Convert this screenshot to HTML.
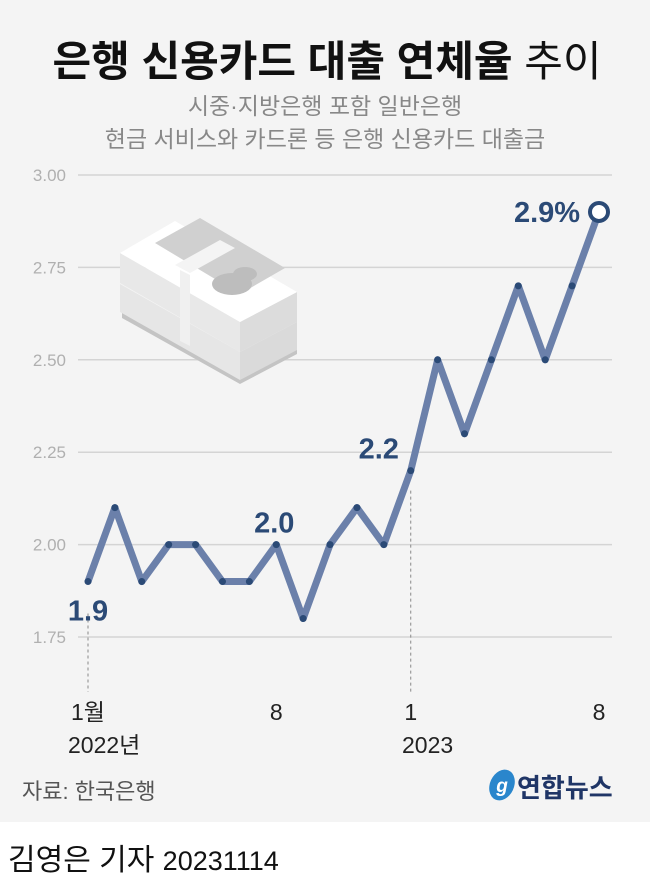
<!DOCTYPE html>
<html><head><meta charset="utf-8"><style>
body{margin:0;width:650px;height:883px;background:#fff;font-family:"Liberation Sans","Noto Sans CJK KR",sans-serif;overflow:hidden}
#main{position:absolute;left:0;top:0;width:650px;height:822px;background:#f4f4f4}
</style></head><body>
<div id="main">
<svg width="650" height="822" style="position:absolute;left:0;top:0">
<text x="327" y="76" text-anchor="middle" font-size="42" font-weight="bold" fill="#111" font-family="Liberation Sans,Noto Sans CJK KR,sans-serif">은행 신용카드 대출 연체율 <tspan font-weight="normal">추이</tspan></text>
<text x="325" y="114" text-anchor="middle" font-size="23" fill="#888" font-family="Liberation Sans,Noto Sans CJK KR,sans-serif">시중·지방은행 포함 일반은행</text>
<text x="325" y="147" text-anchor="middle" font-size="23" fill="#888" font-family="Liberation Sans,Noto Sans CJK KR,sans-serif">현금 서비스와 카드론 등 은행 신용카드 대출금</text>
<g id="grid"></g>
<g id="money">
<polygon points="122,312 240,378 240,384 122,318" fill="#c4c4c4"/>
<polygon points="240,378 297,348 297,354 240,384" fill="#c4c4c4"/>
<polygon points="120,284 240,352 240,380 120,312" fill="#e6e6e6"/>
<polygon points="240,352 297,322 297,350 240,380" fill="#dadada"/>
<polygon points="120,253 240,322 240,352 120,283" fill="#e8e8e8"/>
<polygon points="240,322 297,292 297,322 240,352" fill="#dcdcdc"/>
<polygon points="120,253 175,221 297,292 240,322" fill="#fff"/>
<polygon points="155,243 200,218 285,268 240,294" fill="#d0d0d0"/>
<polygon points="175,265 220,240 235,248 190,273" fill="#f4f4f4"/>
<polygon points="180,270 190,275 190,346 180,341" fill="#f0f0f0"/>
<ellipse cx="232" cy="284" rx="20" ry="11" fill="#bdbdbd"/>
<ellipse cx="245" cy="274" rx="12" ry="7" fill="#bdbdbd"/>
</g>
<g id="plot"></g>
<text x="22" y="799" font-size="22" fill="#555" font-family="Liberation Sans,Noto Sans CJK KR,sans-serif">자료: 한국은행</text>
<g>
<ellipse cx="502" cy="785" rx="12" ry="16" fill="#2a86cc" transform="rotate(25 502 785)"/>
<text x="502" y="792" text-anchor="middle" font-size="19" font-style="italic" fill="#fff" font-weight="bold">g</text>
<text x="517" y="797" font-size="26" font-weight="bold" fill="#1f3566" font-family="Liberation Sans,Noto Sans CJK KR,sans-serif">연합뉴스</text>
</g>
</svg>
</div>
<div style="position:absolute;left:8px;top:835px;font-size:30px;color:#111">김영은 기자 <span style="font-size:27px">20231114</span></div>
<script>
const categories=['2022-01','2022-02','2022-03','2022-04','2022-05','2022-06','2022-07','2022-08','2022-09','2022-10','2022-11','2022-12','2023-01','2023-02','2023-03','2023-04','2023-05','2023-06','2023-07','2023-08'];
const values=[1.9,2.1,1.9,2.0,2.0,1.9,1.9,2.0,1.8,2.0,2.1,2.0,2.2,2.5,2.3,2.5,2.7,2.5,2.7,2.9];
const yTicks=[1.75,2.00,2.25,2.50,2.75,3.00];
const labeled=[0,7,12,19];
const labelText=['1.9','2.0','2.2','2.9%'];
const NS='http://www.w3.org/2000/svg';
const x=i=>88+i*(599-88)/19;
const y=v=>175+(3-v)*(637-175)/1.25;
function mk(p,t,a){const e=document.createElementNS(NS,t);for(const k in a)e.setAttribute(k,a[k]);p.appendChild(e);return e;}
const grid=document.getElementById('grid'),plot=document.getElementById('plot');
yTicks.forEach(t=>{
 const l=mk(grid,'line',{x1:78,x2:612,y1:y(t),y2:y(t),stroke:'#d4d4d4','stroke-width':1.5});
 
 
 const tx=mk(grid,'text',{x:66,y:y(t)+6,'text-anchor':'end','font-size':17,fill:'#b0b0b0'});
 tx.textContent=t.toFixed(2);
 
 
});
[[0,y(values[0])+32],[12,y(values[12])+20]].forEach(([i,top])=>{
 const l=mk(plot,'line',{x1:x(i),x2:x(i),y1:top,y2:692,stroke:'#888','stroke-width':1,'stroke-dasharray':'3,3'});
 
 
});
const pl=mk(plot,'polyline',{points:values.map((v,i)=>x(i)+','+y(v)).join(' '),fill:'none',stroke:'#6b80aa','stroke-width':7,'stroke-linejoin':'round'});


values.forEach((v,i)=>{
 const last=i===values.length-1;
 const c=mk(plot,'circle',last?{cx:x(i),cy:y(v),r:9,fill:'#fff',stroke:'#2b4a76','stroke-width':4}:{cx:x(i),cy:y(v),r:3.5,fill:'#2b4a76'});
 
 
});
const offs=[[0,39],[-2,-12],[-32,-12],[-52,10]];
labeled.forEach((i,k)=>{
 const t=mk(plot,'text',{x:x(i)+offs[k][0],y:y(values[i])+offs[k][1],'text-anchor':'middle','font-size':29,'font-weight':'bold',fill:'#2b4a76'});
 t.textContent=labelText[k];
 
 
});
[[0,'1월',720],[7,'8',720],[12,'1',720],[19,'8',720]].forEach(([i,s,yy])=>{
 const t=mk(plot,'text',{x:x(i),y:yy,'text-anchor':'middle','font-size':23,fill:'#222'});
 t.textContent=s;
 
 
});
[[68,'2022년'],[402,'2023']].forEach(([xx,s])=>{
 const t=mk(plot,'text',{x:xx,y:753,'font-size':23,fill:'#222'});
 t.textContent=s;
 
 
});
</script>
</body></html>
